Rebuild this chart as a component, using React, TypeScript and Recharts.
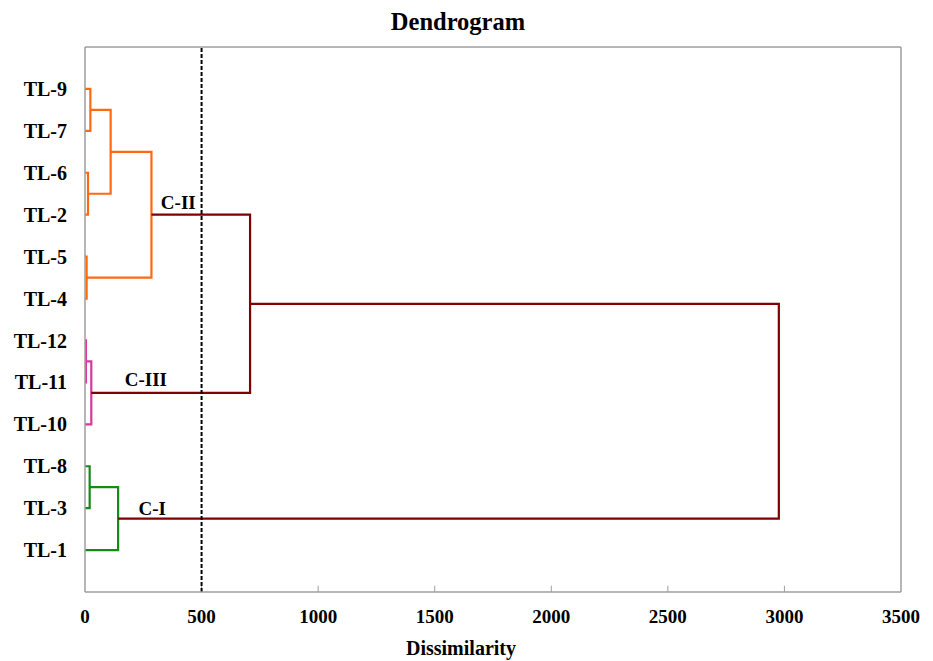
import React from "react";
import { LineChart, Line, XAxis, YAxis, ReferenceLine, ReferenceDot } from "recharts";

// Leaves, bottom to top (position 1..12)
const leafNames = ["TL-1", "TL-3", "TL-8", "TL-10", "TL-11", "TL-12", "TL-4", "TL-5", "TL-2", "TL-6", "TL-7", "TL-9"];
// Merges: leaves are nodes 0..11, merges are nodes 12..22
const mergeLeft = [11, 9, 12, 7, 14, 5, 17, 2, 19, 16, 21];
const mergeRight = [10, 8, 13, 6, 15, 4, 3, 1, 0, 18, 20];
const mergeHeight = [23, 13, 110, 7, 285, 4, 27, 20, 142, 708, 2976];
const xTicks = [0, 500, 1000, 1500, 2000, 2500, 3000, 3500];
const cutoff = 500;

const ORANGE = "#ff6a10";
const MAGENTA = "#d6389e";
const GREEN = "#168a16";
const MAROON = "#800000";
const mergeColors = [ORANGE, ORANGE, ORANGE, ORANGE, ORANGE, MAGENTA, MAGENTA, GREEN, GREEN, MAROON, MAROON];

const FONT = '"Liberation Serif", "Times New Roman", serif';
const AXIS = "#9e9e9e";

const nodePos: number[] = leafNames.map((_, i) => i + 1);
const nodeH: number[] = leafNames.map(() => 0);
mergeHeight.forEach((h, k) => {
  nodePos.push((nodePos[mergeLeft[k]] + nodePos[mergeRight[k]]) / 2);
  nodeH.push(h);
});
const links = mergeHeight.map((h, k) => {
  const a = mergeLeft[k];
  const b = mergeRight[k];
  return [
    { x: nodeH[a], y: nodePos[a] },
    { x: h, y: nodePos[a] },
    { x: h, y: nodePos[b] },
    { x: nodeH[b], y: nodePos[b] },
  ];
});

const clusterLabel = (text: string) => (p: any) => (
  <text x={p.cx} y={p.cy} textAnchor="middle" dominantBaseline="central" fontFamily={FONT} fontWeight="bold" fontSize={19} fill="#000">
    {text}
  </text>
);

export default function App() {
  return (
    <div style={{ position: "relative", width: 925, height: 653 }}>
      <LineChart width={925} height={653} margin={{ top: 39, right: 32, left: 0, bottom: 0 }}>
        <XAxis
          type="number"
          dataKey="x"
          domain={[0, 3500]}
          ticks={xTicks}
          interval={0}
          allowDataOverflow
          height={69}
          axisLine={{ stroke: AXIS, strokeWidth: 1.5 }}
          tickLine={false}
          tickSize={0}
          tickMargin={18}
          tick={{ fontFamily: FONT, fontWeight: "bold", fontSize: 19, fill: "#000" }}
        />
        <YAxis
          type="number"
          dataKey="y"
          domain={[0, 13]}
          ticks={leafNames.map((_, i) => i + 1)}
          interval={0}
          allowDataOverflow
          width={77}
          tickFormatter={(v: number) => leafNames[v - 1] ?? ""}
          axisLine={{ stroke: AXIS, strokeWidth: 1.5 }}
          tickLine={false}
          tickSize={0}
          tickMargin={18}
          tick={{ fontFamily: FONT, fontWeight: "bold", fontSize: 20, fill: "#000" }}
        />
        <ReferenceLine y={13} stroke={AXIS} strokeWidth={1.5} />
        <ReferenceLine x={3500} stroke={AXIS} strokeWidth={1.5} />
        {xTicks.slice(1, -1).map((v) => (
          <ReferenceLine key={v} segment={[{ x: v, y: 0 }, { x: v, y: 0.15 }]} stroke={AXIS} strokeWidth={1} />
        ))}
        {links.map((d, k) => (
          <Line
            key={k}
            data={d}
            dataKey="y"
            type="linear"
            stroke={mergeColors[k]}
            strokeWidth={2.2}
            dot={false}
            activeDot={false}
            isAnimationActive={false}
          />
        ))}
        <ReferenceLine x={cutoff} stroke="#000" strokeWidth={2} strokeDasharray="4 2" />
        <ReferenceDot x={400} y={9.3} r={0} shape={clusterLabel("C-II")} />
        <ReferenceDot x={261} y={5.06} r={0} shape={clusterLabel("C-III")} />
        <ReferenceDot x={288} y={1.98} r={0} shape={clusterLabel("C-I")} />
        <text x={450} y={22} textAnchor="middle" fontFamily={FONT} fontWeight="bold" fontSize={24.5} fill="#000">
          Dendrogram
        </text>
        <text x={453} y={647} textAnchor="middle" fontFamily={FONT} fontWeight="bold" fontSize={20} fill="#000">
          Dissimilarity
        </text>
      </LineChart>
    </div>
  );
}
